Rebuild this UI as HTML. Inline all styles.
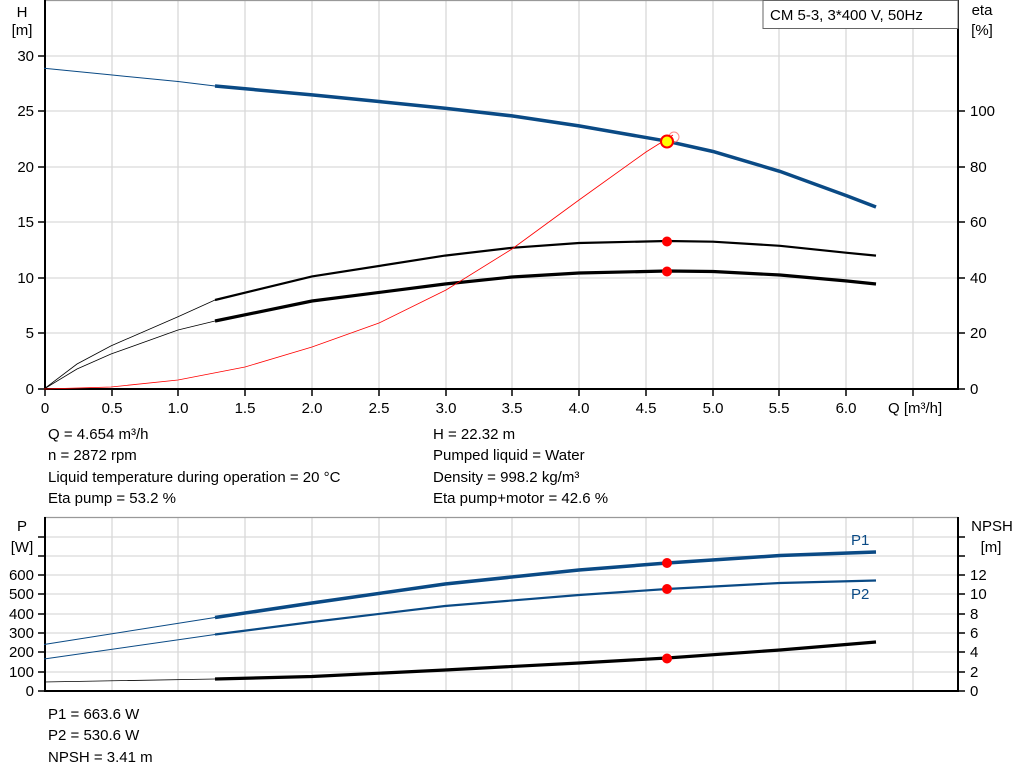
<!DOCTYPE html>
<html><head><meta charset="utf-8"><style>
html,body{margin:0;padding:0;background:#fff}
svg{display:block;font-family:"Liberation Sans",Arial,sans-serif}
</style></head><body>
<svg width="1024" height="781" viewBox="0 0 1024 781" xmlns="http://www.w3.org/2000/svg">
<rect width="1024" height="781" fill="#fff"/>
<!-- TOP CHART grid -->
<g stroke="#d9d9d9" stroke-width="1.3">
<line x1="112" y1="0" x2="112" y2="389"/><line x1="178" y1="0" x2="178" y2="389"/><line x1="245" y1="0" x2="245" y2="389"/><line x1="312" y1="0" x2="312" y2="389"/><line x1="379" y1="0" x2="379" y2="389"/><line x1="446" y1="0" x2="446" y2="389"/><line x1="512" y1="0" x2="512" y2="389"/><line x1="579" y1="0" x2="579" y2="389"/><line x1="646" y1="0" x2="646" y2="389"/><line x1="713" y1="0" x2="713" y2="389"/><line x1="779" y1="0" x2="779" y2="389"/><line x1="846" y1="0" x2="846" y2="389"/><line x1="913" y1="0" x2="913" y2="389"/>
<line x1="44" y1="56" x2="958" y2="56"/><line x1="44" y1="111" x2="958" y2="111"/><line x1="44" y1="167" x2="958" y2="167"/><line x1="44" y1="222" x2="958" y2="222"/><line x1="44" y1="278" x2="958" y2="278"/><line x1="44" y1="333" x2="958" y2="333"/>
<line x1="44" y1="0.5" x2="958" y2="0.5" stroke="#999"/>
</g>
<g stroke="#000" stroke-width="2">
<line x1="45" y1="0" x2="45" y2="390"/><line x1="44" y1="389" x2="958" y2="389"/><line x1="958" y1="0" x2="958" y2="390"/>
</g>
<g stroke="#000" stroke-width="1.5">
<line x1="38" y1="56" x2="45" y2="56"/><line x1="38" y1="111" x2="45" y2="111"/><line x1="38" y1="167" x2="45" y2="167"/><line x1="38" y1="222" x2="45" y2="222"/><line x1="38" y1="278" x2="45" y2="278"/><line x1="38" y1="333" x2="45" y2="333"/><line x1="38" y1="389" x2="45" y2="389"/>
<line x1="958" y1="111" x2="965" y2="111"/><line x1="958" y1="167" x2="965" y2="167"/><line x1="958" y1="222" x2="965" y2="222"/><line x1="958" y1="278" x2="965" y2="278"/><line x1="958" y1="333" x2="965" y2="333"/><line x1="958" y1="389" x2="965" y2="389"/>
<line x1="45" y1="389" x2="45" y2="396"/><line x1="112" y1="389" x2="112" y2="396"/><line x1="178" y1="389" x2="178" y2="396"/><line x1="245" y1="389" x2="245" y2="396"/><line x1="312" y1="389" x2="312" y2="396"/><line x1="379" y1="389" x2="379" y2="396"/><line x1="446" y1="389" x2="446" y2="396"/><line x1="512" y1="389" x2="512" y2="396"/><line x1="579" y1="389" x2="579" y2="396"/><line x1="646" y1="389" x2="646" y2="396"/><line x1="713" y1="389" x2="713" y2="396"/><line x1="779" y1="389" x2="779" y2="396"/><line x1="846" y1="389" x2="846" y2="396"/><line x1="913" y1="389" x2="913" y2="396"/>
</g>
<g font-size="15" fill="#000">
<text x="22" y="17" text-anchor="middle">H</text><text x="22" y="35" text-anchor="middle">[m]</text>
<g text-anchor="end"><text x="34" y="61">30</text><text x="34" y="116">25</text><text x="34" y="172">20</text><text x="34" y="227">15</text><text x="34" y="283">10</text><text x="34" y="338">5</text><text x="34" y="394">0</text></g>
<text x="982" y="15" text-anchor="middle">eta</text><text x="982" y="35" text-anchor="middle">[%]</text>
<g><text x="970" y="116">100</text><text x="970" y="172">80</text><text x="970" y="227">60</text><text x="970" y="283">40</text><text x="970" y="338">20</text><text x="970" y="394">0</text></g>
<g text-anchor="middle"><text x="45" y="413">0</text><text x="112" y="413">0.5</text><text x="178" y="413">1.0</text><text x="245" y="413">1.5</text><text x="312" y="413">2.0</text><text x="379" y="413">2.5</text><text x="446" y="413">3.0</text><text x="512" y="413">3.5</text><text x="579" y="413">4.0</text><text x="646" y="413">4.5</text><text x="713" y="413">5.0</text><text x="779" y="413">5.5</text><text x="846" y="413">6.0</text></g>
<text x="888" y="413">Q [m³/h]</text>
</g>
<rect x="763" y="0.5" width="195" height="28" fill="#fff" stroke="#666"/>
<text x="770" y="20" font-size="15">CM 5-3, 3*400 V, 50Hz</text>
<!-- curves top -->
<polyline fill="none" stroke="#0a4a85" stroke-width="1" points="44,68.2 111,74.9 178,81.5 215,86"/>
<polyline fill="none" stroke="#0a4a85" stroke-width="3.5" points="215,86 312,94.9 379,101.5 445,108.2 512,115.9 579,125.9 667,141.2 713,151.5 780,171.4 847,195.9 876,207"/>
<polyline fill="none" stroke="#000" stroke-width="0.8" points="44,389 77,364 111,345.9 178,316.7 215,300"/>
<polyline fill="none" stroke="#000" stroke-width="2.2" points="215,300 312,276.4 445,255.6 512,247.8 579,243 667,241 713,241.7 780,245.8 847,252.8 876,255.6"/>
<polyline fill="none" stroke="#000" stroke-width="0.8" points="44,389 77,369 111,354 178,330 215,321"/>
<polyline fill="none" stroke="#000" stroke-width="3.2" points="215,321 312,301 445,284 512,277 579,273 667,271 713,271.5 780,275 847,281 876,284"/>
<polyline fill="none" stroke="#f00" stroke-width="0.8" points="44,389 111,387 178,380 245,367 312,347 379,323 446,290 512,249 579,200 646,152 673,135"/>
<circle cx="674" cy="137" r="5" fill="none" stroke="#f88" stroke-width="1"/>
<circle cx="667" cy="241.5" r="5" fill="#f00"/>
<circle cx="667" cy="271.5" r="5" fill="#f00"/>
<circle cx="667" cy="141.5" r="6" fill="#ff0" stroke="#f00" stroke-width="2"/>
<!-- info text -->
<g font-size="15" fill="#000">
<text x="48" y="439">Q = 4.654 m³/h</text><text x="48" y="460">n = 2872 rpm</text><text x="48" y="482">Liquid temperature during operation = 20 °C</text><text x="48" y="503">Eta pump = 53.2 %</text>
<text x="433" y="439">H = 22.32 m</text><text x="433" y="460">Pumped liquid = Water</text><text x="433" y="482">Density = 998.2 kg/m³</text><text x="433" y="503">Eta pump+motor = 42.6 %</text>
</g>
<!-- BOTTOM CHART -->
<g stroke="#d9d9d9" stroke-width="1.3">
<line x1="112" y1="517" x2="112" y2="691"/><line x1="178" y1="517" x2="178" y2="691"/><line x1="245" y1="517" x2="245" y2="691"/><line x1="312" y1="517" x2="312" y2="691"/><line x1="379" y1="517" x2="379" y2="691"/><line x1="446" y1="517" x2="446" y2="691"/><line x1="512" y1="517" x2="512" y2="691"/><line x1="579" y1="517" x2="579" y2="691"/><line x1="646" y1="517" x2="646" y2="691"/><line x1="713" y1="517" x2="713" y2="691"/><line x1="779" y1="517" x2="779" y2="691"/><line x1="846" y1="517" x2="846" y2="691"/><line x1="913" y1="517" x2="913" y2="691"/>
<line x1="44" y1="537" x2="958" y2="537"/><line x1="44" y1="556" x2="958" y2="556"/><line x1="44" y1="575" x2="958" y2="575"/><line x1="44" y1="594" x2="958" y2="594"/><line x1="44" y1="614" x2="958" y2="614"/><line x1="44" y1="633" x2="958" y2="633"/><line x1="44" y1="652" x2="958" y2="652"/><line x1="44" y1="672" x2="958" y2="672"/>
<line x1="44" y1="517.5" x2="958" y2="517.5" stroke="#999"/>
</g>
<g stroke="#000" stroke-width="2">
<line x1="45" y1="517" x2="45" y2="692"/><line x1="44" y1="691" x2="958" y2="691"/><line x1="958" y1="517" x2="958" y2="692"/>
</g>
<g stroke="#000" stroke-width="1.5">
<line x1="38" y1="537" x2="45" y2="537"/><line x1="38" y1="556" x2="45" y2="556"/><line x1="38" y1="575" x2="45" y2="575"/><line x1="38" y1="594" x2="45" y2="594"/><line x1="38" y1="614" x2="45" y2="614"/><line x1="38" y1="633" x2="45" y2="633"/><line x1="38" y1="652" x2="45" y2="652"/><line x1="38" y1="672" x2="45" y2="672"/><line x1="38" y1="691" x2="45" y2="691"/>
<line x1="958" y1="537" x2="965" y2="537"/><line x1="958" y1="556" x2="965" y2="556"/><line x1="958" y1="575" x2="965" y2="575"/><line x1="958" y1="594" x2="965" y2="594"/><line x1="958" y1="614" x2="965" y2="614"/><line x1="958" y1="633" x2="965" y2="633"/><line x1="958" y1="652" x2="965" y2="652"/><line x1="958" y1="672" x2="965" y2="672"/><line x1="958" y1="691" x2="965" y2="691"/>
</g>
<g font-size="15" fill="#000">
<text x="22" y="531" text-anchor="middle">P</text><text x="22" y="552" text-anchor="middle">[W]</text>
<g text-anchor="end"><text x="34" y="580">600</text><text x="34" y="599">500</text><text x="34" y="619">400</text><text x="34" y="638">300</text><text x="34" y="657">200</text><text x="34" y="677">100</text><text x="34" y="696">0</text></g>
<text x="992" y="531" text-anchor="middle">NPSH</text><text x="991" y="552" text-anchor="middle">[m]</text>
<g><text x="970" y="580">12</text><text x="970" y="599">10</text><text x="970" y="619">8</text><text x="970" y="638">6</text><text x="970" y="657">4</text><text x="970" y="677">2</text><text x="970" y="696">0</text></g>
<text x="851" y="545" fill="#0a4a85">P1</text><text x="851" y="599" fill="#0a4a85">P2</text>
</g>
<polyline fill="none" stroke="#0a4a85" stroke-width="1" points="44,644.5 215,617.5"/>
<polyline fill="none" stroke="#0a4a85" stroke-width="3.5" points="215,617.5 312,603 445,584 579,570 667,563 780,555.5 876,552"/>
<polyline fill="none" stroke="#0a4a85" stroke-width="1" points="44,659 215,634.5"/>
<polyline fill="none" stroke="#0a4a85" stroke-width="2.2" points="215,634.5 312,622 445,606 579,595 667,589 780,583 876,580.5"/>
<polyline fill="none" stroke="#000" stroke-width="0.8" points="44,682 215,679"/>
<polyline fill="none" stroke="#000" stroke-width="3.2" points="215,679 312,676.5 445,670 579,663 667,658 780,650 876,642"/>
<circle cx="667" cy="563" r="5" fill="#f00"/>
<circle cx="667" cy="589" r="5" fill="#f00"/>
<circle cx="667" cy="658.5" r="5" fill="#f00"/>
<g font-size="15" fill="#000">
<text x="48" y="719">P1 = 663.6 W</text><text x="48" y="740">P2 = 530.6 W</text><text x="48" y="762">NPSH = 3.41 m</text>
</g>
</svg>
</body></html>
